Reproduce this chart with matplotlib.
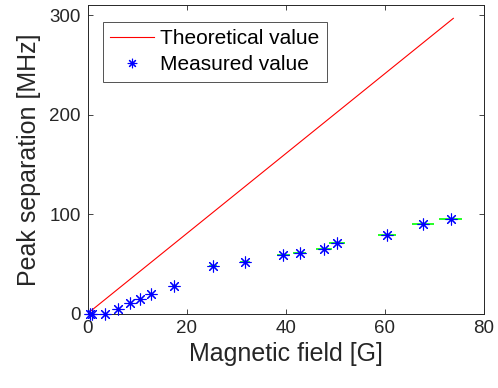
import matplotlib
matplotlib.use('Agg')
import matplotlib.pyplot as plt

plt.rcParams['font.family'] = ['Liberation Sans', 'DejaVu Sans']

# measured data
field = [0.4, 0.9, 3.5, 6.2, 8.6, 10.65, 12.75, 17.5, 25.3, 31.8, 39.5, 42.8, 47.7, 50.3, 60.4, 67.7, 73.3]
separation = [0, 0, 0, 4.5, 10.9, 14.6, 19.9, 28.0, 47.8, 52.1, 59.2, 61.2, 65.2, 71.0, 79.0, 90.1, 95.4]
field_err = [0.0, 0.0, 0.1, 0.2, 0.3, 0.35, 0.4, 0.55, 0.8, 1.0, 1.3, 1.35, 1.6, 1.6, 1.9, 2.15, 2.3]

# theoretical line
theory_field = [0, 73.8]
theory_sep = [0, 297]

axc = '#262626'

fig = plt.figure(figsize=(4.98, 3.88), dpi=100)
ax = fig.add_axes([0.176, 0.192, 0.796, 0.794])

ax.plot(theory_field, theory_sep, color='#ff0000', lw=0.8, label='Theoretical value')
ax.errorbar(field, separation, xerr=field_err, fmt='none', ecolor='#00ff00', elinewidth=1.2, capsize=0)
ax.plot(field, separation, ls='none', marker=(8, 2, 0), ms=8.5, mec='blue', mfc='blue', mew=0.8,
        label='Measured value', clip_on=False, zorder=5)

ax.set_xlim(0, 80)
ax.set_ylim(0, 310)
ax.set_xticks([0, 20, 40, 60, 80])
ax.set_yticks([0, 100, 200, 300])

for s in ax.spines.values():
    s.set_color(axc)
    s.set_linewidth(0.7)
ax.tick_params(direction='in', length=3.5, width=0.6, color=axc, labelcolor=axc,
               labelsize=13.5, top=True, right=True, pad=5)

ax.set_xlabel('Magnetic field [G]', fontsize=18, color=axc, labelpad=3)
ax.set_ylabel('Peak separation [MHz]', fontsize=18, color=axc, labelpad=6)

leg = ax.legend(loc='upper left', bbox_to_anchor=(0.038, 0.947), borderaxespad=0,
                fontsize=15, frameon=True, fancybox=False, handlelength=2.1,
                handletextpad=0.3, labelspacing=0.35, borderpad=0.35, markerscale=0.8)
leg.get_frame().set_edgecolor(axc)
leg.get_frame().set_linewidth(0.7)
for t in leg.get_texts():
    t.set_color('black')

fig.savefig('out.png', dpi=100, facecolor='white')
